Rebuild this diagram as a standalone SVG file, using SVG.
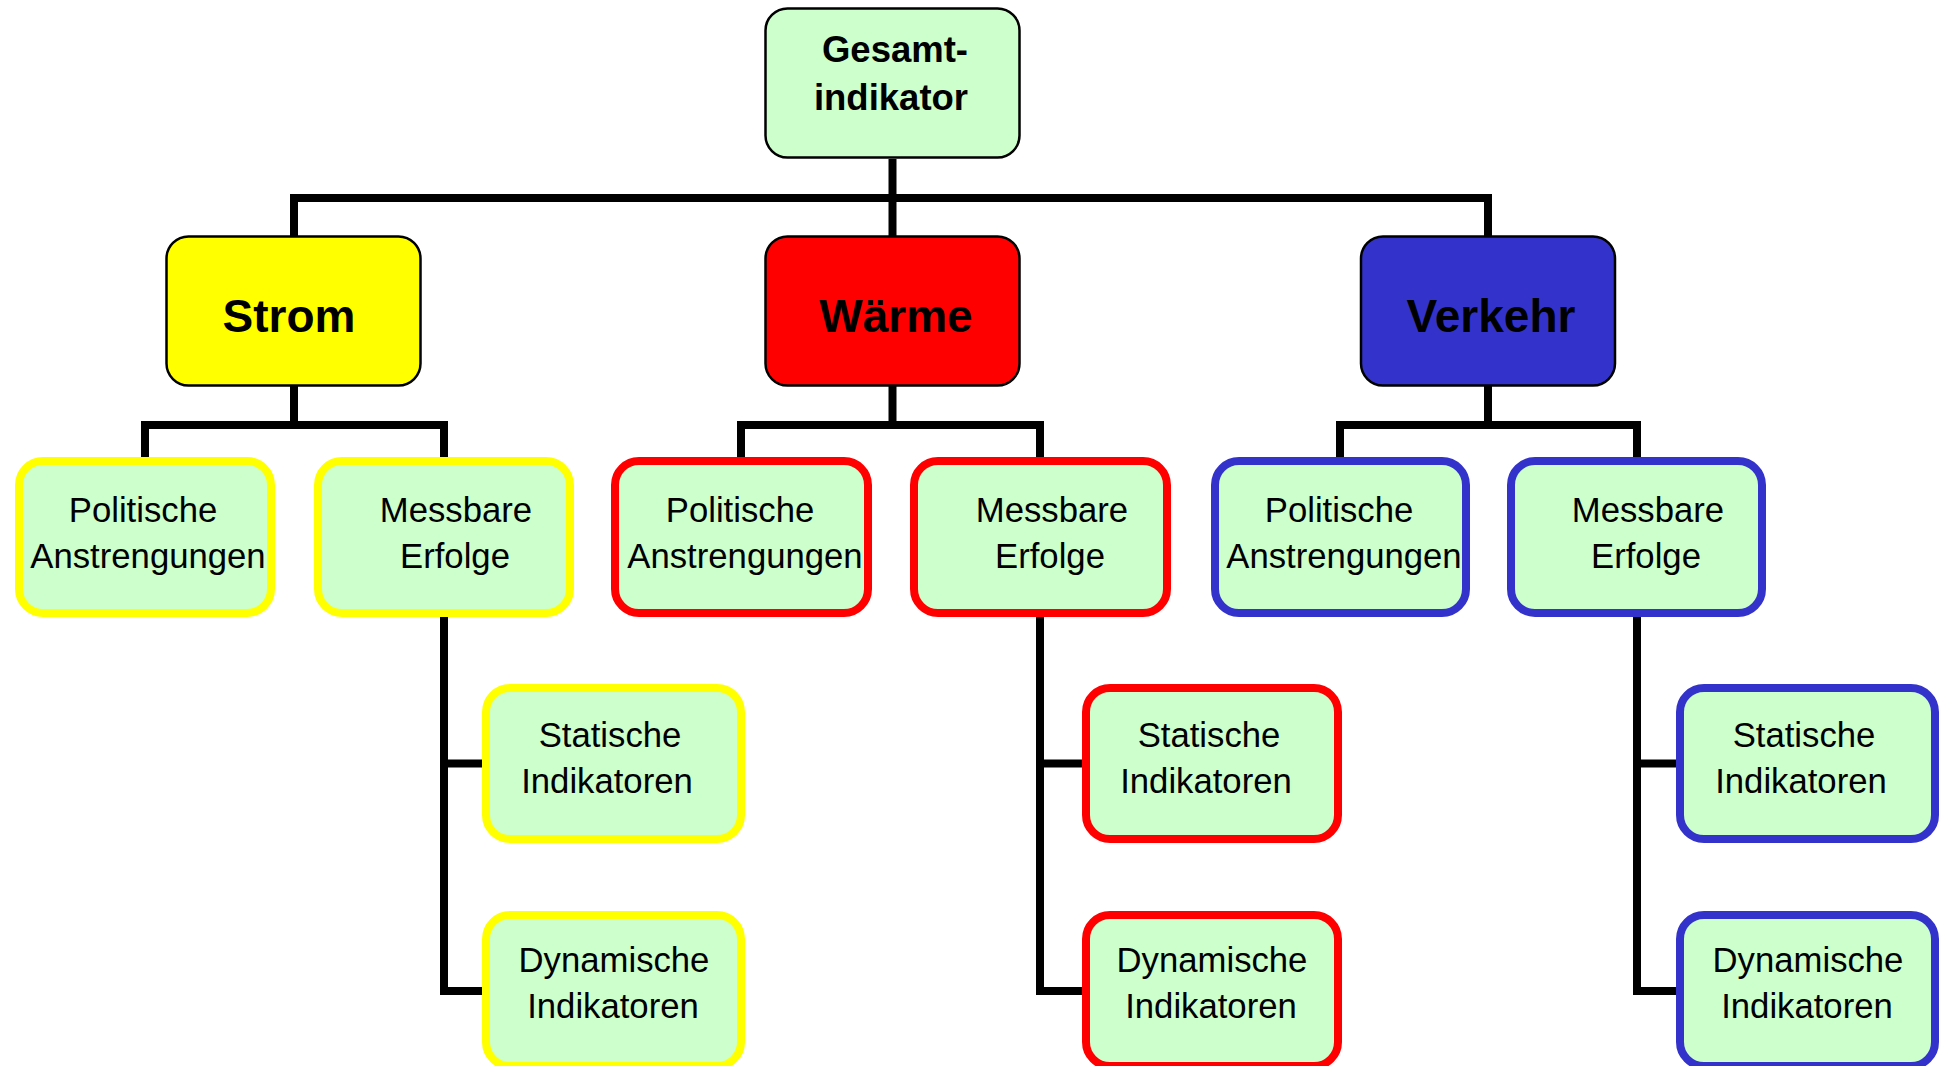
<svg xmlns="http://www.w3.org/2000/svg" width="1945" height="1066" viewBox="0 0 1945 1066">
<style>
.top{fill:#CCFFCC;stroke:#000;stroke-width:2.5}
.l2{stroke:#000;stroke-width:2.5}
.leaf{fill:#CCFFCC;stroke-width:8}
.y{stroke:#FFFF00}.r{stroke:#FF0000}.b{stroke:#3333CC}
.tb{font-family:"Liberation Sans",Arial,sans-serif;font-weight:bold;fill:#000;text-anchor:middle}
.t{font-family:"Liberation Sans",Arial,sans-serif;font-size:34.7px;fill:#000;text-anchor:middle}
.c{fill:none;stroke:#000;stroke-width:8;stroke-linejoin:miter;stroke-linecap:butt}
</style>
<rect width="1945" height="1066" fill="#fff"/>
<g id="connectors" class="c">
<path d="M892.5,159 V236"/>
<path d="M294,236 V198 H1488 V236"/>
<path d="M294,386 V425"/>
<path d="M145,457 V425 H444 V457"/>
<path d="M892.5,386 V425"/>
<path d="M741,457 V425 H1040 V457"/>
<path d="M1488,386 V425"/>
<path d="M1340,457 V425 H1637 V457"/>
<path d="M444,617 V991 H486"/>
<path d="M444,763.5 H486"/>
<path d="M1040,617 V991 H1084"/>
<path d="M1040,763.5 H1084"/>
<path d="M1637,617 V991 H1680"/>
<path d="M1637,763.5 H1680"/>
</g>
<g id="gesamt">
<rect class="top" x="765.5" y="8.5" width="254" height="149" rx="22"/>
<text class="tb" font-size="36.5" x="895" y="62">Gesamt-</text>
<text class="tb" font-size="36.5" x="891" y="110">indikator</text>
</g>
<g id="strom">
<rect class="l2" fill="#FFFF00" x="166.5" y="236.5" width="254" height="149" rx="22"/>
<text class="tb" font-size="46" x="289" y="332">Strom</text>
</g>
<g id="waerme">
<rect class="l2" fill="#FF0000" x="765.5" y="236.5" width="254" height="149" rx="22"/>
<text class="tb" font-size="46" x="896" y="332">Wärme</text>
</g>
<g id="verkehr">
<rect class="l2" fill="#3333CC" x="1361" y="236.5" width="254" height="149" rx="22"/>
<text class="tb" font-size="46" x="1491" y="332">Verkehr</text>
</g>
<g id="strom-politische">
<rect class="leaf y" x="19" y="461" width="252" height="152" rx="24"/>
<text class="t" x="143" y="522">Politische</text>
<text class="t" x="148" y="568">Anstrengungen</text>
</g>
<g id="strom-messbare">
<rect class="leaf y" x="318" y="461" width="252" height="152" rx="24"/>
<text class="t" x="456" y="522">Messbare</text>
<text class="t" x="455" y="568">Erfolge</text>
</g>
<g id="strom-statische">
<rect class="leaf y" x="486" y="688" width="255" height="151" rx="24"/>
<text class="t" x="610" y="747">Statische</text>
<text class="t" x="607" y="793">Indikatoren</text>
</g>
<g id="strom-dynamische">
<rect class="leaf y" x="486" y="915" width="255" height="151" rx="24"/>
<text class="t" x="614" y="972">Dynamische</text>
<text class="t" x="613" y="1018">Indikatoren</text>
</g>
<g id="waerme-politische">
<rect class="leaf r" x="615" y="461" width="253" height="152" rx="24"/>
<text class="t" x="740" y="522">Politische</text>
<text class="t" x="745" y="568">Anstrengungen</text>
</g>
<g id="waerme-messbare">
<rect class="leaf r" x="914" y="461" width="253" height="152" rx="24"/>
<text class="t" x="1052" y="522">Messbare</text>
<text class="t" x="1050" y="568">Erfolge</text>
</g>
<g id="waerme-statische">
<rect class="leaf r" x="1086" y="688" width="252" height="151" rx="24"/>
<text class="t" x="1209" y="747">Statische</text>
<text class="t" x="1206" y="793">Indikatoren</text>
</g>
<g id="waerme-dynamische">
<rect class="leaf r" x="1086" y="915" width="252" height="151" rx="24"/>
<text class="t" x="1212" y="972">Dynamische</text>
<text class="t" x="1211" y="1018">Indikatoren</text>
</g>
<g id="verkehr-politische">
<rect class="leaf b" x="1215" y="461" width="251" height="152" rx="24"/>
<text class="t" x="1339" y="522">Politische</text>
<text class="t" x="1344" y="568">Anstrengungen</text>
</g>
<g id="verkehr-messbare">
<rect class="leaf b" x="1511" y="461" width="251" height="152" rx="24"/>
<text class="t" x="1648" y="522">Messbare</text>
<text class="t" x="1646" y="568">Erfolge</text>
</g>
<g id="verkehr-statische">
<rect class="leaf b" x="1680" y="688" width="255" height="151" rx="24"/>
<text class="t" x="1804" y="747">Statische</text>
<text class="t" x="1801" y="793">Indikatoren</text>
</g>
<g id="verkehr-dynamische">
<rect class="leaf b" x="1680" y="915" width="255" height="151" rx="24"/>
<text class="t" x="1808" y="972">Dynamische</text>
<text class="t" x="1807" y="1018">Indikatoren</text>
</g>
</svg>
